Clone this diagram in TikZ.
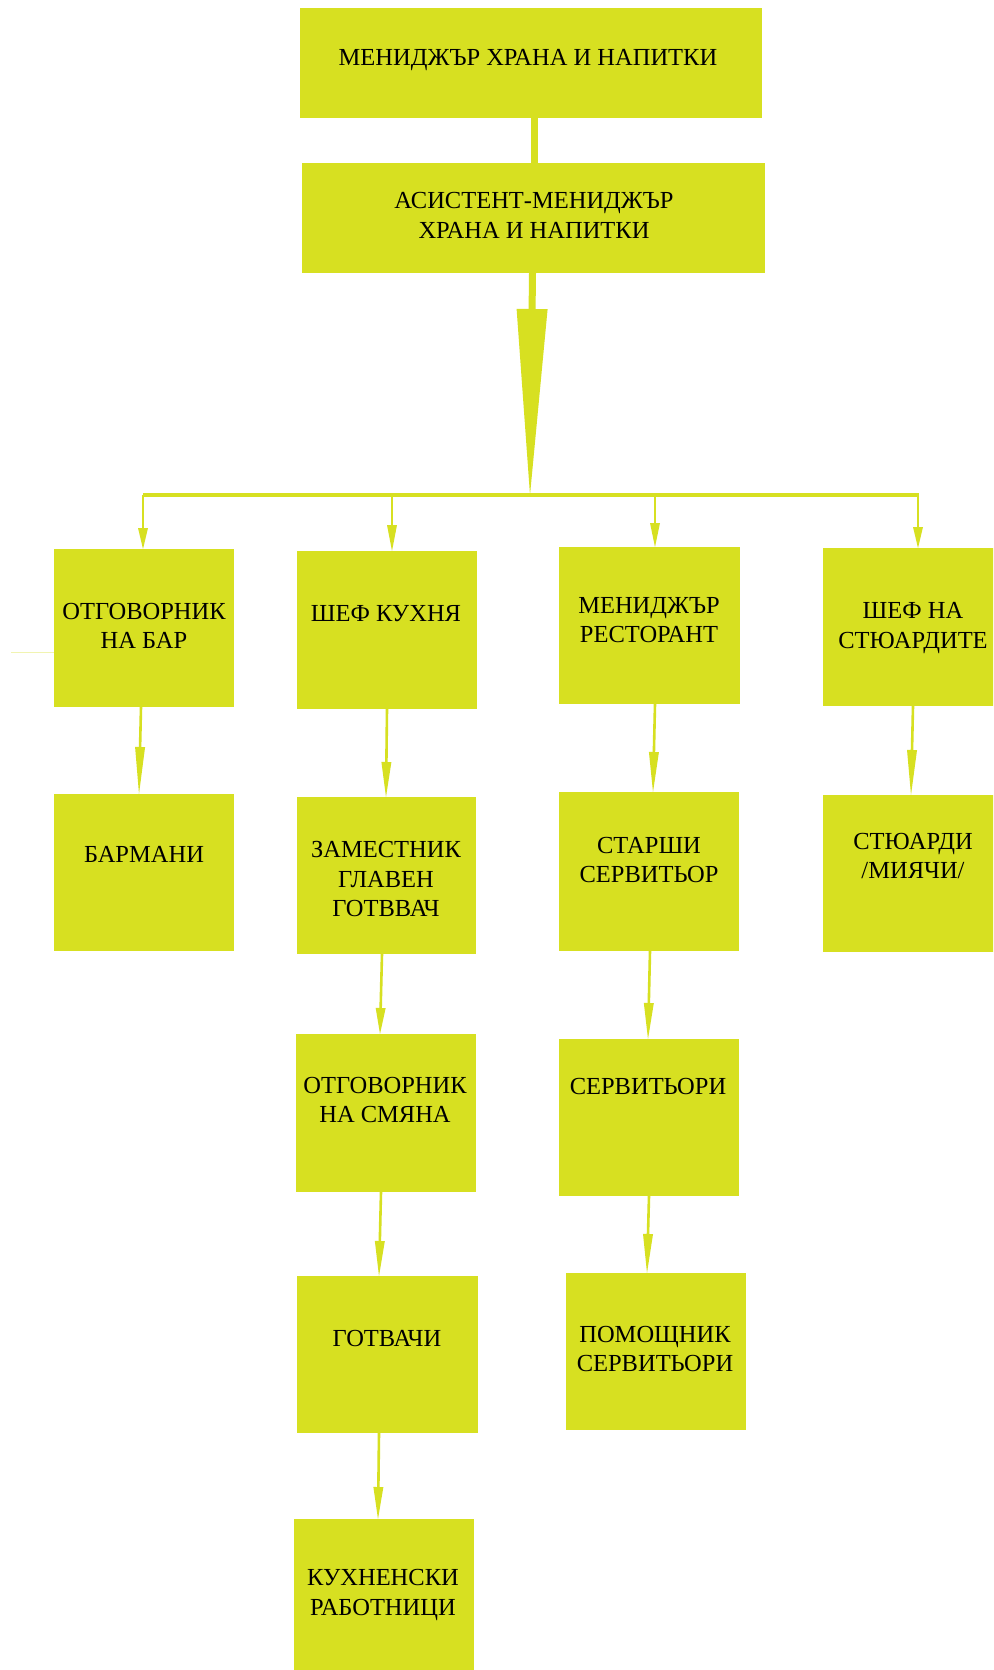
\documentclass[tikz,border=0pt]{standalone}
\usepackage{fontspec}
\setmainfont{Liberation Serif}
\usetikzlibrary{arrows.meta}

\definecolor{ycol}{RGB}{215,224,33}

% box from its corners: name, x1, y1, x2, y2 (units of the picture)
\newcommand\orgbox[5]{%
  \node[box, minimum width={(#4-#2)*1pt}, minimum height={(#5-#3)*1pt}]
    (#1) at ({(#2+#4)/2},{(#3+#5)/2}) {};}

\tikzset{
  box/.style={fill=ycol, draw=none, inner sep=0pt, outer sep=0pt},
  lbl/.style={align=center, inner sep=0pt, text=black,
    font=\fontsize{24.5}{29.5}\selectfont},
  conn/.style={draw=ycol, line width=2.6pt},
  arr/.style={draw=ycol, line width=2.6pt,
    -{Triangle[length=#1pt, width=10pt, line width=0pt, fill=ycol]}},
  arr/.default=30
}

\begin{document}
\begin{tikzpicture}[x=1pt, y=-1pt]
\useasboundingbox (0,0) rectangle (993,1670);
\clip (0,0) rectangle (993,1670);
\fill[white] (0,0) rectangle (993,1670);

% top of the chart
\orgbox{mgr}{300}{8}{762}{118}
\orgbox{asst}{302}{163}{765}{273}

% column 1: bar
\orgbox{bar}{54}{549}{234}{707}
\orgbox{barmen}{54}{794}{234}{951}

% column 2: kitchen
\orgbox{chef}{297}{551}{477}{709}
\orgbox{sous}{297}{797}{476}{954}
\orgbox{shift}{296}{1034}{476}{1192}
\orgbox{cooks}{297}{1276}{478}{1433}
\orgbox{kitch}{294}{1519}{474}{1690}

% column 3: restaurant
\orgbox{rest}{559}{547}{740}{704}
\orgbox{headw}{559}{792}{739}{951}
\orgbox{waiters}{559}{1039}{739}{1196}
\orgbox{helpers}{566}{1273}{746}{1430}

% column 4: stewarding
\orgbox{stewc}{823}{548}{1003}{706}
\orgbox{stew}{823}{795}{1003}{952}

% labels
\node[lbl] (mgr-t) at (528,60) {МЕНИДЖЪР ХРАНА И НАПИТКИ};
\node[lbl] (asst-t) at (534,215.5) {АСИСТЕНТ-МЕНИДЖЪР\\ХРАНА И НАПИТКИ};
\node[lbl] (bar-t) at (144,626) {ОТГОВОРНИК\\НА БАР};
\node[lbl] (barmen-t) at (144,854.5) {БАРМАНИ};
\node[lbl] (chef-t) at (386,614) {ШЕФ КУХНЯ};
\node[lbl] (sous-t) at (386,879) {ЗАМЕСТНИК\\ГЛАВЕН\\ГОТВВАЧ};
\node[lbl] (shift-t) at (385,1100) {ОТГОВОРНИК\\НА СМЯНА};
\node[lbl] (cooks-t) at (387,1338) {ГОТВАЧИ};
\node[lbl] (kitch-t) at (383,1595) {КУХНЕНСКИ\\РАБОТНИЦИ};
\node[lbl] (rest-t) at (649,620) {МЕНИДЖЪР\\РЕСТОРАНТ};
\node[lbl] (headw-t) at (649,860) {СТАРШИ\\СЕРВИТЬОР};
\node[lbl] (waiters-t) at (648,1086) {СЕРВИТЬОРИ};
\node[lbl] (helpers-t) at (655,1349) {ПОМОЩНИК\\СЕРВИТЬОРИ};
\node[lbl] (stewc-t) at (913,628) {ШЕФ НА\\СТЮАРДИТЕ};
\node[lbl] (stew-t) at (913,856) {СТЮАРДИ\\/МИЯЧИ/};

% manager to assistant
\draw[draw=ycol, line width=7pt] ([xshift=3pt]mgr.south) -- ([xshift=0.5pt]asst.south |- asst.north);

% assistant down to the distribution line
\coordinate (hub) at (530,495);
\draw[draw=ycol, line width=7pt,
  -{Triangle[length=186pt, width=31pt, line width=0pt, fill=ycol]}]
  ([xshift=-1pt]asst.south) -- (hub);

% distribution line and drops
\coordinate (hl) at (143,495);
\coordinate (hr) at (919,495);
\draw[conn, line width=3.2pt] (hl) -- (hr);
\coordinate (d1) at (143,495);
\coordinate (d2) at (392,495);
\coordinate (d3) at (655,495);
\coordinate (d4) at (918,495);
\draw[arr=21] (d1) -- (d1 |- bar.north);
\draw[arr=26] (d2) -- (d2 |- chef.north);
\draw[arr=24] (d3) -- (d3 |- rest.north);
\draw[arr=21] (d4) -- (d4 |- stewc.north);

% faint stub left of the bar box
\coordinate (stub) at (11,652);
\draw[draw=ycol!35, line width=0.8pt] (stub) -- (stub -| bar.west);

% chains inside the columns
\draw[arr=47] ([xshift=-3pt]bar.south) -- ([xshift=-5pt]barmen.north);
\draw[arr=35] ([xshift=0pt]chef.south) -- ([xshift=-0.5pt]sous.north);
\draw[arr=26] ([xshift=-4.5pt]sous.south) -- ([xshift=-6pt]shift.north);
\draw[arr=35] ([xshift=-5pt]shift.south) -- ([xshift=-8.5pt]cooks.north);
\draw[arr=32] ([xshift=-8.5pt]cooks.south) -- ([xshift=-6pt]kitch.north);
\draw[arr=40] ([xshift=5.5pt]rest.south) -- ([xshift=4pt]headw.north);
\draw[arr=36] ([xshift=1pt]headw.south) -- ([xshift=-1pt]waiters.north);
\draw[arr=39] ([xshift=0pt]waiters.south) -- ([xshift=-9pt]helpers.north);
\draw[arr=45] ([xshift=0pt]stewc.south) -- ([xshift=-2pt]stew.north);
\end{tikzpicture}
\end{document}
